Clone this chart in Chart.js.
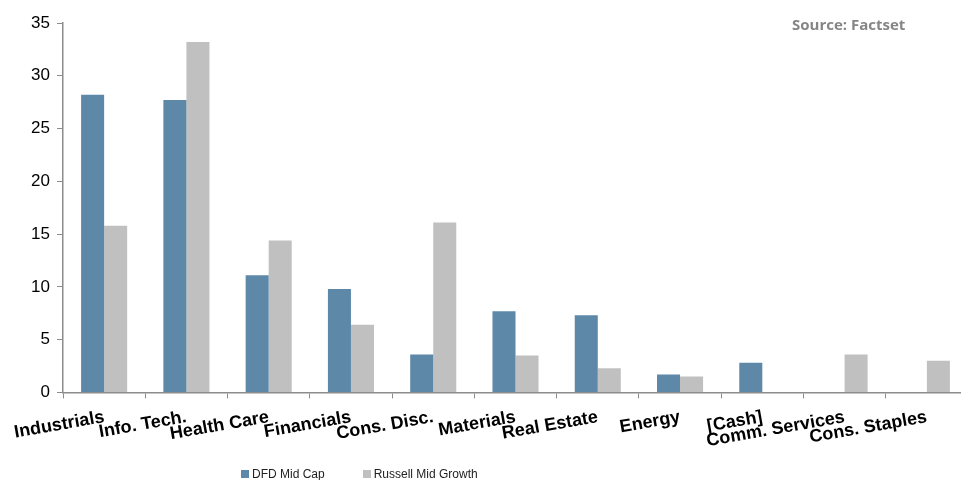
<!DOCTYPE html>
<html>
<head>
    <title>Sector Weights</title>
    <meta charset="UTF-8">
    <script src="https://cdn.jsdelivr.net/npm/chart.js"></script>
    <style>
        body { margin: 0; background: #fff; overflow: hidden; }
        #wrap { position: relative; width: 961px; height: 480px; overflow: hidden; }
        #source { position: absolute; top: 14px; left: 792px; font: bold 15px "Open Sans", sans-serif; color: #858585; }
        #legend { position: absolute; top: 467px; left: 241px; font: 12px "Liberation Sans", Arial, sans-serif; color: #222; }
        #legend span.item { display: inline-block; margin-right: 38px; }
        #legend span.box { display: inline-block; width: 8px; height: 8px; margin-right: 3px; }
    </style>
</head>
<body>
<div id="wrap">
    <!-- canvas is a bit wider than the window: the last category runs past the right edge -->
    <canvas id="sectorChart" width="968" height="480"></canvas>
    <div id="source">Source: Factset</div>
    <div id="legend"></div>
</div>

<script>
    // sector weights (%)
    const sectors = ['Industrials', 'Info. Tech.', 'Health Care', 'Financials', 'Cons. Disc.',
        'Materials', 'Real Estate', 'Energy', '[Cash]', 'Comm. Services', 'Cons. Staples'];
    const dfdMidCap = [28.2, 27.7, 11.1, 9.8, 3.6, 7.7, 7.3, 1.7, 2.8, 0, 0];
    const russellMidGrowth = [15.8, 33.2, 14.4, 6.4, 16.1, 3.5, 2.3, 1.5, 0, 3.6, 3.0];
    const yTicks = [0, 5, 10, 15, 20, 25, 30, 35];

    const seriesNames = ['DFD Mid Cap', 'Russell Mid Growth'];
    const seriesColors = ['#5e88a8', '#c0c0c0'];

    const axisGray = '#8c8c8c';
    const ctx = document.getElementById('sectorChart').getContext('2d');

    const chart = new Chart(ctx, {
        type: 'bar',
        data: {
            labels: sectors,
            datasets: [
                { label: seriesNames[0], data: dfdMidCap, backgroundColor: seriesColors[0] },
                { label: seriesNames[1], data: russellMidGrowth, backgroundColor: seriesColors[1] }
            ]
        },
        options: {
            responsive: false,
            animation: false,
            layout: { padding: { top: 23, right: 0, bottom: 20, left: 0 } },
            datasets: { bar: { categoryPercentage: 0.56, barPercentage: 1.0 } },
            plugins: {
                legend: { display: false },
                tooltip: { enabled: false }
            },
            scales: {
                x: {
                    grid: { offset: true, drawOnChartArea: false, color: axisGray, tickLength: 6 },
                    border: { color: axisGray, width: 1.5 },
                    ticks: {
                        autoSkip: false,
                        minRotation: 10,
                        maxRotation: 10,
                        padding: 8,
                        color: '#000',
                        font: { family: 'Liberation Sans', size: 18, weight: 'bold' }
                    }
                },
                y: {
                    min: 0,
                    max: 35,
                    afterBuildTicks: axis => { axis.ticks = yTicks.map(v => ({ value: v })); },
                    afterFit: axis => { axis.width = 63; },
                    grid: { drawOnChartArea: false, color: axisGray, tickLength: 6 },
                    border: { color: axisGray, width: 1.5 },
                    ticks: {
                        padding: 7,
                        color: '#000',
                        font: { family: 'Liberation Sans', size: 17 }
                    }
                }
            }
        }
    });

    // simple html legend built from the datasets
    const legend = document.getElementById('legend');
    chart.data.datasets.forEach(ds => {
        const item = document.createElement('span');
        item.className = 'item';
        item.innerHTML = '<span class="box" style="background:' + ds.backgroundColor + '"></span>' + ds.label;
        legend.appendChild(item);
    });
</script>
</body>
</html>
